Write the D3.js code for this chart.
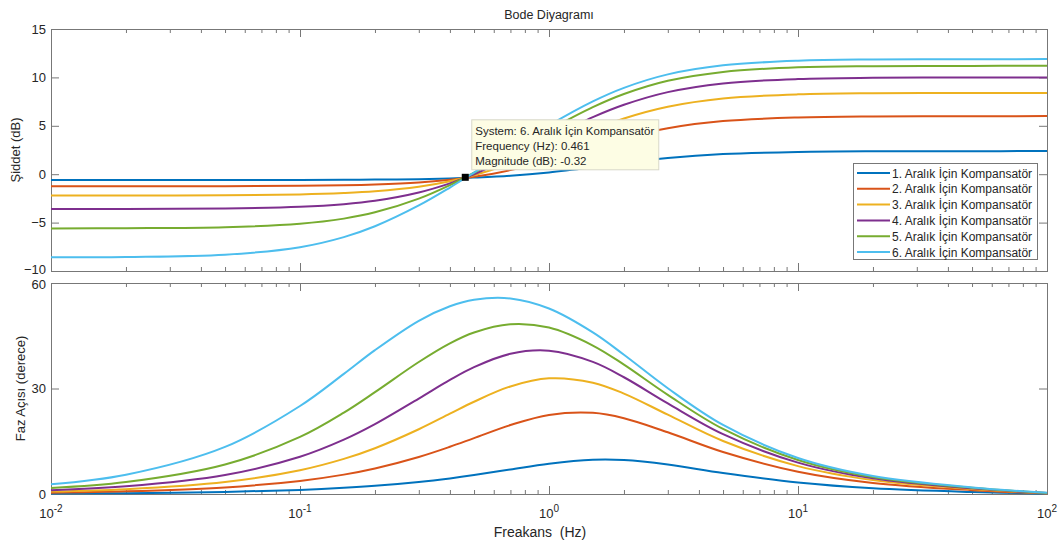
<!DOCTYPE html>
<html>
<head>
<meta charset="utf-8">
<script src="https://cdn.jsdelivr.net/npm/d3@7"></script>
<style>
  body { margin: 0; background: #fff; }
  svg { font-family: "Liberation Sans", Arial, sans-serif; }
  .axis text { font-size: 13px; fill: #262626; }
  .axis path, .axis line { stroke: #777; }
</style>
</head>
<body>
<div id="chart"></div>
<script>
// frequency points (Hz)
let freqHz = [0.01, 0.02, 0.05, 0.1, 0.15, 0.2, 0.3, 0.4, 0.5, 0.7, 1, 1.5, 2, 3, 5, 10, 20, 50, 100];

let seriesNames = [
    "1. Aralık İçin Kompansatör",
    "2. Aralık İçin Kompansatör",
    "3. Aralık İçin Kompansatör",
    "4. Aralık İçin Kompansatör",
    "5. Aralık İçin Kompansatör",
    "6. Aralık İçin Kompansatör"
];
let seriesColors = ["#0072BD", "#D95319", "#EDB120", "#7E2F8E", "#77AC30", "#4DBEEE"];

// magnitude (dB)
let mag1 = [-0.60, -0.60, -0.60, -0.59, -0.58, -0.56, -0.51, -0.44, -0.35, -0.16, 0.18, 0.72, 1.15, 1.67, 2.08, 2.30, 2.37, 2.38, 2.39];
let mag2 = [-1.25, -1.25, -1.24, -1.20, -1.15, -1.07, -0.86, -0.58, -0.27, 0.42, 1.45, 2.82, 3.74, 4.75, 5.49, 5.86, 5.97, 5.99, 6.00];
let mag3 = [-2.20, -2.20, -2.17, -2.09, -1.95, -1.77, -1.30, -0.73, -0.11, 1.11, 2.71, 4.59, 5.76, 6.97, 7.82, 8.25, 8.37, 8.39, 8.40];
let mag4 = [-3.60, -3.59, -3.54, -3.37, -3.10, -2.75, -1.89, -0.95, -0.01, 1.70, 3.71, 5.89, 7.17, 8.48, 9.38, 9.83, 9.96, 9.99, 10.00];
let mag5 = [-5.60, -5.58, -5.48, -5.12, -4.59, -3.94, -2.52, -1.12, 0.15, 2.27, 4.56, 6.92, 8.28, 9.65, 10.57, 11.04, 11.16, 11.19, 11.20];
let mag6 = [-8.59, -8.55, -8.31, -7.54, -6.50, -5.38, -3.23, -1.38, 0.17, 2.58, 5.05, 7.52, 8.92, 10.31, 11.25, 11.72, 11.85, 11.88, 11.89];

// phase (degrees)
let phase1 = [0.12, 0.24, 0.59, 1.17, 1.75, 2.32, 3.42, 4.44, 5.38, 6.99, 8.63, 9.74, 9.66, 8.39, 5.97, 3.24, 1.60, 0.55, 0.10];
let phase2 = [0.37, 0.75, 1.87, 3.71, 5.51, 7.26, 10.54, 13.43, 15.90, 19.60, 22.48, 23.07, 21.54, 17.55, 11.95, 6.35, 3.15, 1.10, 0.15];
let phase3 = [0.69, 1.37, 3.41, 6.76, 9.98, 13.02, 18.42, 22.83, 26.24, 30.59, 32.90, 31.66, 28.56, 22.56, 15.07, 7.93, 3.95, 1.40, 0.20];
let phase4 = [1.08, 2.17, 5.39, 10.59, 15.45, 19.86, 27.14, 32.43, 36.07, 39.87, 40.74, 37.56, 33.20, 25.76, 17.02, 8.92, 4.45, 1.60, 0.25];
let phase5 = [1.70, 3.39, 8.39, 16.23, 23.14, 28.97, 37.54, 42.84, 45.93, 48.27, 47.32, 42.22, 36.78, 28.19, 18.49, 9.65, 4.80, 1.75, 0.30];
let phase6 = [2.74, 5.47, 13.39, 25.02, 34.15, 40.91, 49.26, 53.39, 55.25, 55.60, 52.74, 45.95, 39.60, 30.08, 19.64, 10.23, 5.10, 1.85, 0.35];

let magTicks = [-10, -5, 0, 5, 10, 15];
let phaseTicks = [0, 30, 60];
let decades = [0.01, 0.1, 1, 10, 100];
let decadeExp = ["-2", "-1", "0", "1", "2"];

// data tip
let tipFreq = 0.461, tipMag = -0.32;
let tipLines = ["System: 6. Aralık İçin Kompansatör", "Frequency (Hz): 0.461", "Magnitude (dB): -0.32"];

let magnitudes = [mag1, mag2, mag3, mag4, mag5, mag6];
let phases = [phase1, phase2, phase3, phase4, phase5, phase6];

let width = 1062, height = 543;
let left = 51, right = 1047;
let magTop = 29, magBottom = 271;
let phTop = 283, phBottom = 494;

let svg = d3.select("#chart").append("svg")
    .attr("width", width)
    .attr("height", height);

let x = d3.scaleLog().domain([0.01, 100]).range([left, right]);
let yMag = d3.scaleLinear().domain([-10, 15]).range([magBottom, magTop]);
let yPh = d3.scaleLinear().domain([0, 60]).range([phBottom, phTop]);

let minorTicks = [];
decades.slice(0, -1).forEach(d => {
    for (let k = 2; k <= 9; k++) minorTicks.push(d * k);
});

function drawFrame(y, top, bottom, ticks) {
    let g = svg.append("g");

    let yAxis = g.append("g").attr("class", "axis")
        .attr("transform", `translate(${left},0)`)
        .call(d3.axisLeft(y).tickValues(ticks).tickSize(-8).tickSizeOuter(0).tickPadding(5).tickFormat(d3.format("d")));
    g.append("g").attr("class", "axis")
        .attr("transform", `translate(${right},0)`)
        .call(d3.axisRight(y).tickValues(ticks).tickSize(-8).tickSizeOuter(0).tickFormat(""));

    [[d3.axisBottom, bottom], [d3.axisTop, top]].forEach(([axisFn, pos]) => {
        g.append("g").attr("class", "axis")
            .attr("transform", `translate(0,${pos})`)
            .call(axisFn(x).tickValues(decades).tickSize(-8).tickSizeOuter(0).tickFormat(""));
        g.append("g").attr("class", "axis")
            .attr("transform", `translate(0,${pos})`)
            .call(axisFn(x).tickValues(minorTicks).tickSize(-4).tickSizeOuter(0).tickFormat(""))
            .select(".domain").remove();
    });

    g.append("rect")
        .attr("x", left + 0.5).attr("y", top + 0.5)
        .attr("width", right - left).attr("height", bottom - top)
        .attr("fill", "none").attr("stroke", "#777");
    return yAxis;
}

// nudge the two labels that meet between the panels
drawFrame(yMag, magTop, magBottom, magTicks)
    .selectAll(".tick text").filter(d => d === -10).attr("dy", "0.2em");
drawFrame(yPh, phTop, phBottom, phaseTicks)
    .selectAll(".tick text").filter(d => d === 60).attr("dy", "0.42em");

function drawLines(y, data) {
    let line = d3.line()
        .x((d, i) => x(freqHz[i]))
        .y(d => y(d))
        .curve(d3.curveCatmullRom.alpha(0.5));
    svg.append("g").selectAll("path")
        .data(data)
        .enter()
        .append("path")
        .attr("d", d => line(d))
        .attr("fill", "none")
        .attr("stroke", (d, i) => seriesColors[i])
        .attr("stroke-width", 2);
}

drawLines(yMag, magnitudes);
drawLines(yPh, phases);

// x tick labels 10^n
let xl = svg.append("g").attr("fill", "#262626");
decades.forEach((d, i) => {
    let t = xl.append("text")
        .attr("x", x(d))
        .attr("y", 518)
        .attr("text-anchor", "middle")
        .style("font-size", "13px");
    t.append("tspan").text("10");
    t.append("tspan").attr("dy", -6).style("font-size", "10px").text(decadeExp[i]);
});

// titles
svg.append("text")
    .attr("x", (left + right) / 2)
    .attr("y", 19)
    .attr("text-anchor", "middle")
    .style("font-size", "12.5px")
    .style("fill", "#262626")
    .text("Bode Diyagramı");

svg.append("text")
    .attr("x", 540)
    .attr("y", 537)
    .attr("text-anchor", "middle")
    .style("font-size", "14px")
    .style("fill", "#262626")
    .style("white-space", "pre")
    .text("Freakans  (Hz)");

svg.append("text")
    .attr("transform", "rotate(-90)")
    .attr("x", -(magTop + magBottom) / 2)
    .attr("y", 20)
    .attr("text-anchor", "middle")
    .style("font-size", "13px")
    .style("fill", "#262626")
    .text("Şiddet (dB)");

svg.append("text")
    .attr("transform", "rotate(-90)")
    .attr("x", -(phTop + phBottom) / 2)
    .attr("y", 25)
    .attr("text-anchor", "middle")
    .style("font-size", "13px")
    .style("fill", "#262626")
    .text("Faz Açısı (derece)");

// legend
let legend = svg.append("g").attr("transform", "translate(853,163)");
legend.append("rect")
    .attr("x", 0.5).attr("y", 0.5)
    .attr("width", 184).attr("height", 96)
    .attr("fill", "#fff").attr("stroke", "#777");
seriesNames.forEach((name, i) => {
    let row = legend.append("g").attr("transform", `translate(0,${10 + i * 15.8})`);
    row.append("line")
        .attr("x1", 4).attr("x2", 37)
        .attr("stroke", seriesColors[i]).attr("stroke-width", 2);
    row.append("text")
        .attr("x", 39).attr("y", 4.5)
        .style("font-size", "12px")
        .style("fill", "#262626")
        .text(name);
});

// data tip
let tx = x(tipFreq), ty = yMag(tipMag);
let tip = svg.append("g");
tip.append("rect")
    .attr("x", tx + 6.5).attr("y", ty - 57.5)
    .attr("width", 187).attr("height", 50)
    .attr("fill", "#fdfde4").attr("stroke", "#d8d8c8");
tipLines.forEach((s, i) => {
    tip.append("text")
        .attr("x", tx + 10)
        .attr("y", ty - 42 + i * 15)
        .style("font-size", "11.5px")
        .style("fill", "#262626")
        .text(s);
});
tip.append("rect")
    .attr("x", tx - 3.5).attr("y", ty - 3.5)
    .attr("width", 7).attr("height", 7)
    .attr("fill", "#000");
</script>
</body>
</html>
